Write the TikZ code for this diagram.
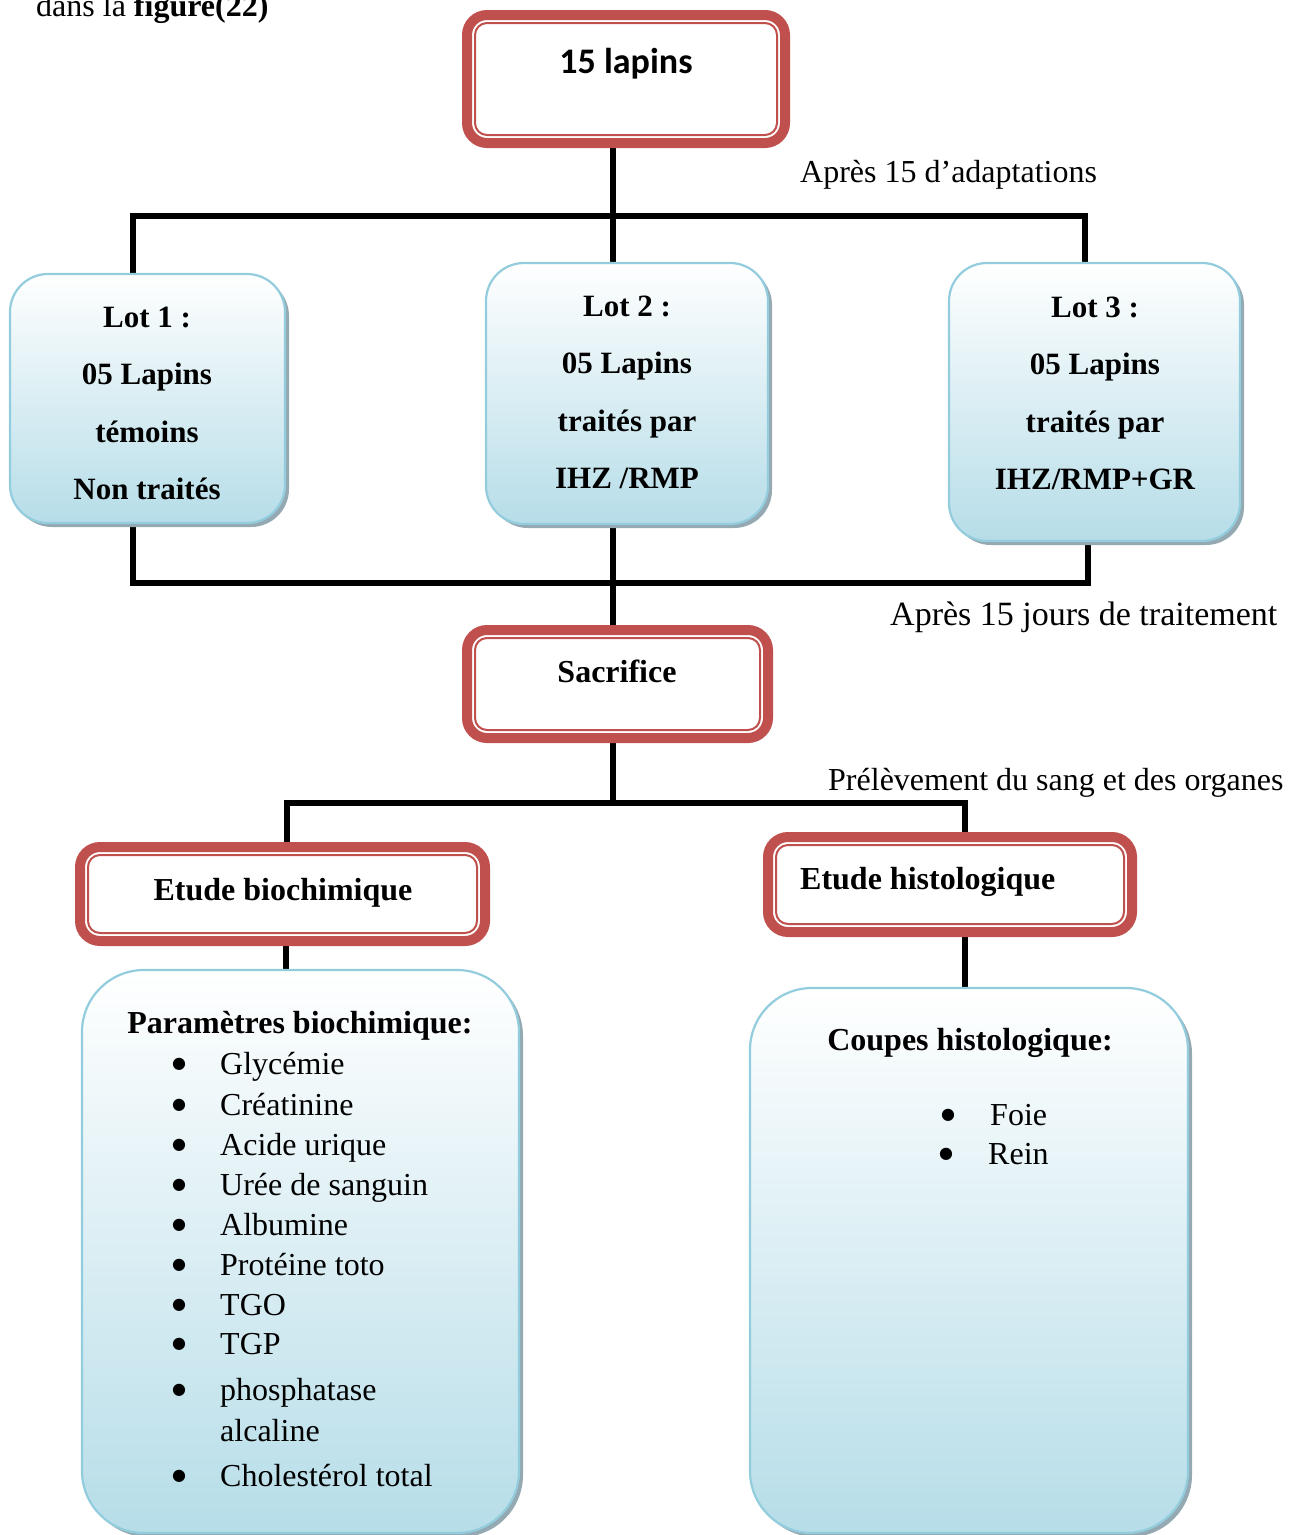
\documentclass[tikz,border=0pt]{standalone}
\usepackage{fontspec}
\setmainfont{Liberation Serif}
\newfontfamily\calfont{Carlito}
\newfontfamily\symfont{DejaVu Sans}
\usetikzlibrary{shadows,calc}
\pgfdeclarelayer{background}
\pgfsetlayers{background,main}
\definecolor{boxred}{HTML}{C0504D}
\definecolor{bordblue}{HTML}{93CDDD}
\definecolor{fillblue}{HTML}{B6DDE8}
\definecolor{shadowc}{HTML}{94A9B1}
\tikzset{
  redbox/.style={draw=boxred, line width=10pt, rounded corners=20pt, fill=white, inner sep=0pt},
  bluebox/.style={draw=bordblue, line width=2.2pt, top color=white, bottom color=fillblue, inner sep=0pt,
     drop shadow={shadow xshift=4pt, shadow yshift=-4pt, fill=shadowc, opacity=1}},
  conn/.style={line width=6pt, black},
  lbl/.style={inner sep=0pt, anchor=base west, font=\fontsize{32}{38}\selectfont},
  boldlbl/.style={inner sep=0pt, anchor=base, font=\fontsize{32}{38}\selectfont\bfseries},
  lottxt/.style={inner sep=0pt, align=center, font=\fontsize{31}{57.5}\selectfont\bfseries},
  item/.style={inner sep=0pt, anchor=base west, font=\fontsize{32}{38}\selectfont},
  bul/.style={inner sep=0pt, anchor=base, font=\fontsize{16}{18}\symfont},
}
\newcommand{\innerline}[1]{%
  \draw[boxred, line width=2pt, rounded corners=12pt]
    ([xshift=13pt,yshift=-13pt]#1.north west) rectangle ([xshift=-13pt,yshift=13pt]#1.south east);}
\begin{document}
\begin{tikzpicture}[x=1pt, y=-1pt]
\useasboundingbox (0,0) rectangle (1298,1535);

% caption fragment
\node[lbl] (cap) at (36,16) {dans la \textbf{figure(22)}};

% red boxes
\node[redbox, minimum width=318pt, minimum height=128pt] (top) at (626,79) {};
\innerline{top}
\node[inner sep=0pt, anchor=base, font=\fontsize{36}{40}\calfont\bfseries] (toptxt) at (626,73) {15 lapins};

\node[redbox, minimum width=301pt, minimum height=108pt] (sacr) at (617.5,684) {};
\innerline{sacr}
\node[boldlbl] (sacrtxt) at (617,682) {Sacrifice};

\node[redbox, minimum width=405pt, minimum height=94pt] (bio) at (282.5,894) {};
\innerline{bio}
\node[boldlbl] (biotxt) at (283,900) {Etude biochimique};

\node[redbox, minimum width=364pt, minimum height=95pt] (hist) at (950,884.5) {};
\innerline{hist}
\node[boldlbl, anchor=base west] (histtxt) at (800,889) {Etude histologique};

% blue boxes
\node[bluebox, rounded corners=38pt, minimum width=275pt, minimum height=249pt] (lot1) at (147.5,398.5) {};
\node[bluebox, rounded corners=38pt, minimum width=282pt, minimum height=261pt] (lot2) at (627,393.5) {};
\node[bluebox, rounded corners=38pt, minimum width=291pt, minimum height=278pt] (lot3) at (1094.5,402) {};
\node[bluebox, rounded corners=62pt, minimum width=437pt, minimum height=563pt] (param) at (300.5,1251.5) {};
\node[bluebox, rounded corners=62pt, minimum width=438pt, minimum height=545pt] (coupes) at (969,1260.5) {};

\node[lottxt] (lot1txt) at (147,403.5) {Lot 1 :\\05 Lapins\\témoins\\Non traités};
\node[lottxt] (lot2txt) at (627,392.5) {Lot 2 :\\05 Lapins\\traités par\\IHZ /RMP};
\node[lottxt] (lot3txt) at (1095,393.5) {Lot 3 :\\05 Lapins\\traités par\\IHZ/RMP+GR};

% side labels
\node[lbl] (l1) at (800,182) {Après 15 d’adaptations};
\node[lbl, font=\fontsize{34}{40}\selectfont] (l2) at (890,625) {Après 15 jours de traitement};
\node[lbl] (l3) at (828,790) {Prélèvement du sang et des organes};

% parameter list
\node[boldlbl] (phead) at (300,1033) {Paramètres biochimique:};
\foreach \t/\yy [count=\i] in {Glycémie/1074, Créatinine/1115, Acide urique/1155, Urée de sanguin/1195, Albumine/1235, Protéine toto/1275, TGO/1315, TGP/1354, phosphatase/1400, Cholestérol total/1486}{
  \node[bul] (pb\i) at (179,\yy-6) {●};
  \node[item] (pi\i) at (220,\yy) {\t};
}
\node[item] (pi9b) at (220,1441) {alcaline};

\node[boldlbl] (chead) at (970,1050) {Coupes histologique:};
\node[bul] (cb1) at (948,1119) {●};
\node[item] (ci1) at (990,1125) {Foie};
\node[bul] (cb2) at (946,1158) {●};
\node[item] (ci2) at (988,1164) {Rein};

% connectors
\coordinate (jt) at (613,216);
\coordinate (jl) at (133,216);
\coordinate (jr) at (1085,216);
\coordinate (kl) at (133,580);
\coordinate (kr) at (1088,580);
\coordinate (mm) at (613,803);
\coordinate (ml) at (287,803);
\coordinate (mr) at (965,803);
\begin{pgfonlayer}{background}
\draw[conn] (jt |- top.south) -- (jt |- lot2.north);
\draw[conn] (jl |- lot1.north) -- (jl) -- (jr) -- (jr |- lot3.north);
\draw[conn] (kl |- lot1.south) -- ([yshift=-3pt]kl) -- ([xshift=3pt,yshift=-3pt]kr) ;
\draw[conn] (kr |- lot3.south) -- ([yshift=-3pt]kr);
\draw[conn] (jt |- lot2.south) -- (jt |- sacr.north);
\draw[conn] (mm |- sacr.south) -- (mm);
\draw[conn] (ml |- bio.north) -- (ml) -- (mr) -- (mr |- hist.north);
\draw[conn] (286,0 |- bio.south) -- (286,0 |- param.north);
\draw[conn] (mr |- hist.south) -- (mr |- coupes.north);
\end{pgfonlayer}
\end{tikzpicture}
\end{document}
